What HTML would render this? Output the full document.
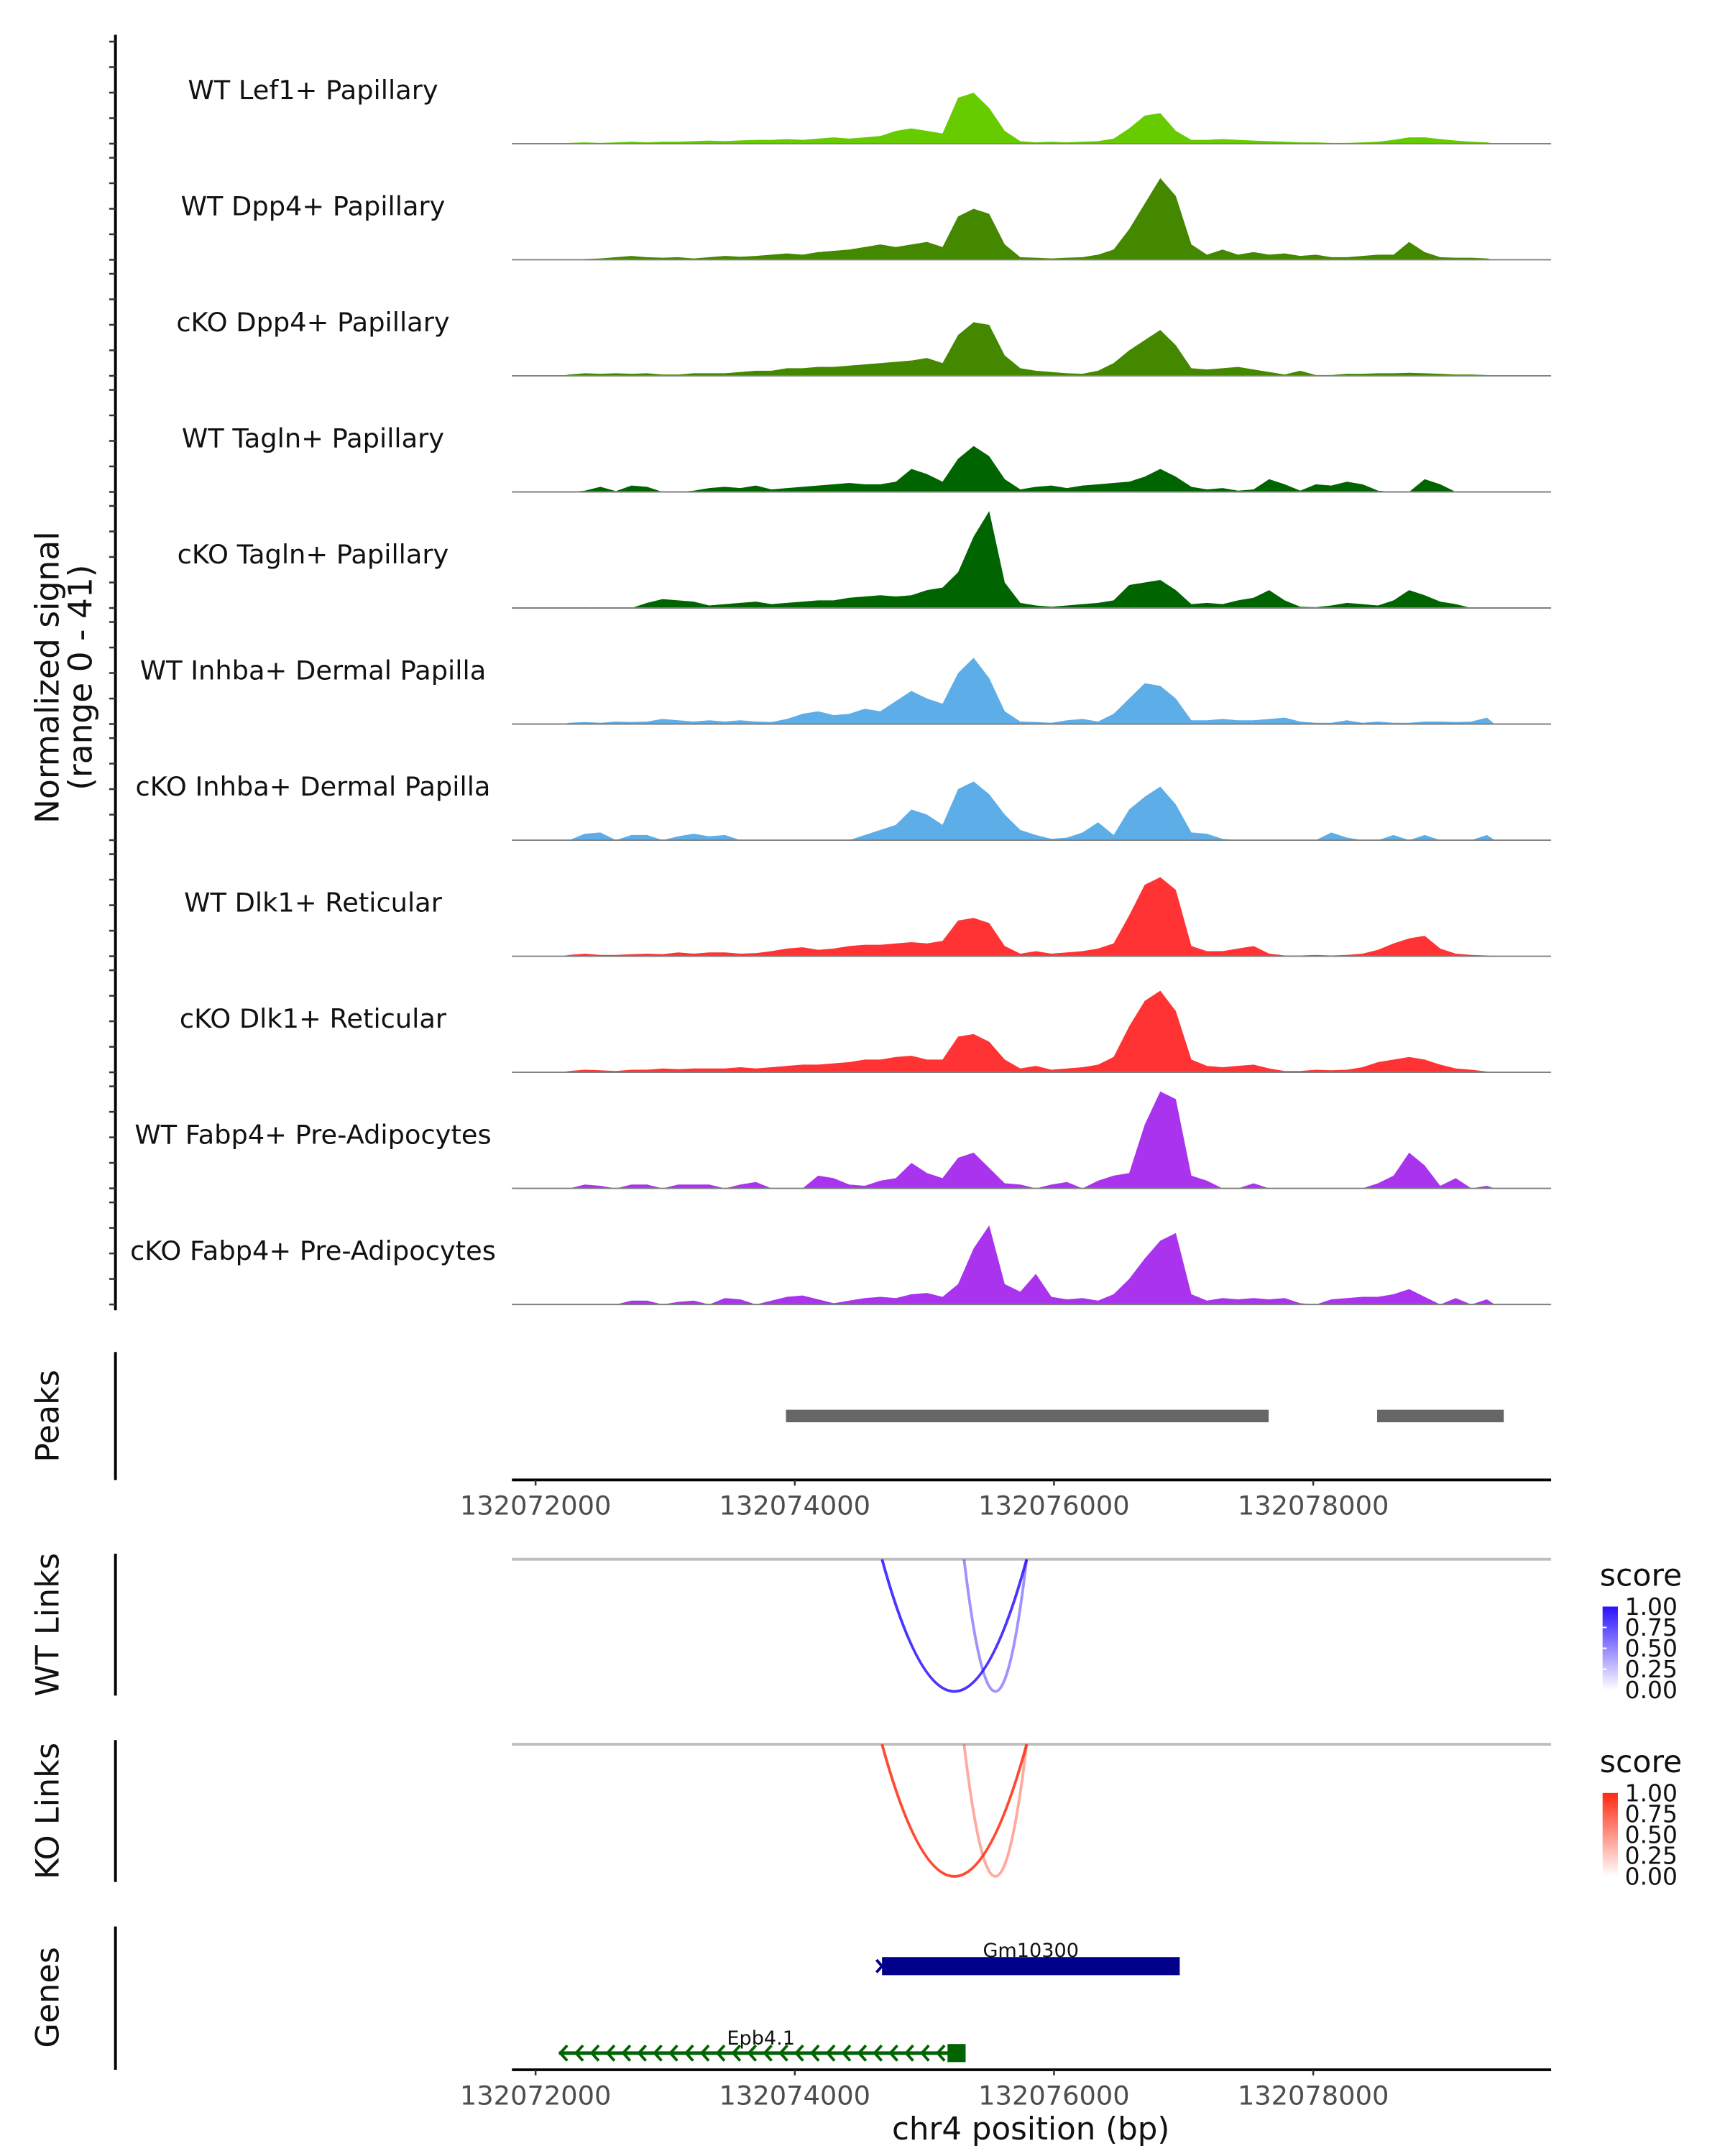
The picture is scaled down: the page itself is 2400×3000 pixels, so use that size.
<!DOCTYPE html>
<html><head><meta charset="utf-8"><style>
html,body{margin:0;padding:0;background:#fff;}
svg{display:block;font-family:"DejaVu Sans","Liberation Sans",sans-serif;}
</style></head><body>
<svg id="chart" width="2400" height="3000" viewBox="0 0 1240 1550" xmlns="http://www.w3.org/2000/svg">
<rect width="1240" height="1550" fill="#fff"/>
<g id="tracks"></g>
<g id="yaxis"></g>
<text transform="translate(42,487) rotate(-90)" text-anchor="middle" font-size="23.5" fill="#111">Normalized signal</text>
<text transform="translate(66,487) rotate(-90)" text-anchor="middle" font-size="23.5" fill="#111">(range 0 - 41)</text>

<g>
<line x1="83" y1="972" x2="83" y2="1064" stroke="#000" stroke-width="2"/>
<text transform="translate(42,1018) rotate(-90)" text-anchor="middle" font-size="23" fill="#111">Peaks</text>
<g id="peaks"></g>
</g>
<g id="xaxis1"></g>

<g>
<line x1="83" y1="1117" x2="83" y2="1219" stroke="#000" stroke-width="2"/>
<text transform="translate(42,1168) rotate(-90)" text-anchor="middle" font-size="23" fill="#111">WT Links</text>
<line x1="368" y1="1121" x2="1115" y2="1121" stroke="#bebebe" stroke-width="2"/>
<g id="wtlinks"></g>
</g>
<g>
<line x1="83" y1="1251" x2="83" y2="1353" stroke="#000" stroke-width="2"/>
<text transform="translate(42,1302) rotate(-90)" text-anchor="middle" font-size="23" fill="#111">KO Links</text>
<line x1="368" y1="1254" x2="1115" y2="1254" stroke="#bebebe" stroke-width="2"/>
<g id="kolinks"></g>
</g>

<defs>
<linearGradient id="gb" x1="0" y1="1" x2="0" y2="0"><stop offset="0" stop-color="#ffffff"/><stop offset="1" stop-color="#2a10ff"/></linearGradient>
<linearGradient id="gr" x1="0" y1="1" x2="0" y2="0"><stop offset="0" stop-color="#ffffff"/><stop offset="1" stop-color="#ff2a10"/></linearGradient>
</defs>
<g>
<text x="1150" y="1140" font-size="22" fill="#111">score</text>
<rect x="1152" y="1155" width="11" height="60" fill="url(#gb)"/>
<g font-size="17" fill="#111">
<text x="1168" y="1161">1.00</text><text x="1168" y="1176">0.75</text><text x="1168" y="1191">0.50</text><text x="1168" y="1206">0.25</text><text x="1168" y="1221">0.00</text></g>
<g stroke="#fff" stroke-width="1"><line x1="1152" y1="1170" x2="1155" y2="1170"/><line x1="1152" y1="1185" x2="1155" y2="1185"/><line x1="1152" y1="1200" x2="1155" y2="1200"/></g>
</g>
<g>
<text x="1150" y="1274" font-size="22" fill="#111">score</text>
<rect x="1152" y="1289" width="11" height="60" fill="url(#gr)"/>
<g font-size="17" fill="#111">
<text x="1168" y="1295">1.00</text><text x="1168" y="1310">0.75</text><text x="1168" y="1325">0.50</text><text x="1168" y="1340">0.25</text><text x="1168" y="1355">0.00</text></g>
</g>

<g>
<line x1="83" y1="1385" x2="83" y2="1488" stroke="#000" stroke-width="2"/>
<text transform="translate(42,1436) rotate(-90)" text-anchor="middle" font-size="23" fill="#111">Genes</text>
<g id="genes"></g>
</g>
<g id="xaxis2"></g>
<text x="741" y="1538" text-anchor="middle" font-size="22.5" fill="#111">chr4 position (bp)</text>
</svg>
<script>
const NS="http://www.w3.org/2000/svg";
const trackNames=["WT Lef1+ Papillary","WT Dpp4+ Papillary","cKO Dpp4+ Papillary","WT Tagln+ Papillary","cKO Tagln+ Papillary","WT Inhba+ Dermal Papilla","cKO Inhba+ Dermal Papilla","WT Dlk1+ Reticular","cKO Dlk1+ Reticular","WT Fabp4+ Pre-Adipocytes","cKO Fabp4+ Pre-Adipocytes"];
const trackColors=["#66cc00","#448800","#448800","#006400","#006400","#5dade9","#5dade9","#ff3333","#ff3333","#aa33ee","#aa33ee"];
const binStart=132072200, binSize=120;
const sigLef1WT=[0.3,0.5,0.3,0.5,0.8,0.5,0.8,0.8,1,1.2, 1,1.3,1.5,1.5,1.8,1.5,2,2.5,2,2.5, 3,5,6,5,4, 18,20,14,5,1, 0.5,0.8,0.5,0.8,1,2, 6,11,12,5,1.5, 1.5,1.8,1.5,1.2,1,0.8,0.5,0.5,0.3, 0.3,0.5,0.8,1.5,2.5,2.5,1.8,1.2,0.8,0.5];
const sigDpp4WT=[0,0.3,0.5,1,1.5,1,0.8,1,0.5,1, 1.5,1.2,1.5,2,2.5,2,3,3.5,4,5, 6,5,6,7,5, 17,20,18,6,1, 0.8,0.5,0.8,1,2,4, 12,22,32,25,6, 2,4,2,3,2,2.5,1.5,2,1, 1,1.5,2,2,7,3,1,0.8,0.8,0.5];
const sigDpp4KO=[0.5,1,0.8,1,0.8,1,0.5,0.5,1,1, 1,1.5,2,2,3,3,3.5,3.5,4,4.5, 5,5.5,6,7,5, 16,21,20,8,3, 2,1.5,1,0.8,2,5, 10,14,18,12,3, 2.5,3,3.5,2.5,1.5,0.5,2,0.3,0.3, 0.8,0.8,1,1,1.2,1,0.8,0.5,0.5,0.3];
const sigTaglnWT=[0,0.5,2,0.3,2.5,2,0,0,0.5,1.5, 2,1.5,2.5,1,1.5,2,2.5,3,3.5,3, 3,4,9,7,4, 13,18,14,5,1, 2,2.5,1.5,2.5,3,3.5, 4,6,9,6,2, 1,1.5,0.5,1,5,3,0.5,3,2.5, 4,3,0.5,0,0,5,3,0,0,0];
const sigTaglnKO=[0,0.3,0,0,0,2,3.5,3,2.5,1, 1.5,2,2.5,1.5,2,2.5,3,3,4,4.5, 5,4.5,5,7,8, 14,28,38,10,2, 1,0.5,1,1.5,2,3, 9,10,11,7,1.5, 2,1.5,3,4,7,3,0.5,0.3,1, 2,1.5,1,3,7,5,2.5,1.5,0,0];
const sigInhbaWT=[0.5,0.8,0.5,1,0.8,1,2,1.5,1,1.5, 1,1.5,1,0.8,2,4,5,3.5,4,6, 5,9,13,10,8, 20,26,18,5,1, 0.8,0.5,1.5,2,1,4, 10,16,15,10,1.5, 1.5,2,1.5,1.5,2,2.5,1,0.5,0.5, 1.5,0.5,1,0.5,0.5,1,1,0.8,1,2.5];
const sigInhbaKO=[0,2.5,3,0,2,2,0,1.5,2.5,1.5, 2,0,0,0,0,0,0,0,0,2, 4,6,12,10,6, 20,23,18,10,4, 2,0.5,1,3,7,2, 12,17,21,14,3, 2.5,0.5,0,0,0,0,0,0,3, 1,0,0,2,0,2,0,0,0,2];
const sigDlk1WT=[0.5,1,0.5,0.5,0.8,1,0.8,1.5,1,1.5, 1.5,1,1.2,2,3,3.5,2.5,3,4,4.5, 4.5,5,5.5,5,6, 14,15,13,4,1, 2,1,1.5,2,3,5, 16,28,31,26,4, 2,2,3,4,1,0.3,0.3,0.5,0.3, 0.5,1,2.5,5,7,8,3,1,0.5,0.3];
const sigDlk1KO=[0.5,1,0.8,0.5,1,1,1.5,1.2,1.5,1.5, 1.5,2,1.5,2,2.5,3,3,3.5,4,5, 5,6,6.5,5,5, 14,15,12,5,1.5, 2.5,1,1.5,2,3,6, 18,28,32,24,5, 2.5,2,2.5,3,1.5,0.5,0.5,1,0.8, 1,2,4,5,6,5,3,1.5,1,0.3];
const sigFabp4WT=[0,1.5,1,0,1.5,1.5,0,1.5,1.5,1.5, 0,1.5,2.5,0,0,0,5,4,1.5,1, 3,4,10,6,4, 12,14,8,2,1.5, 0,1.5,2.5,0,3,5, 6,25,38,35,5, 3,0,0,2,0,0,0,0,0, 0,0,2,5,14,9,1,4,0,1];
const sigFabp4KO=[0,0,0,0,1.5,1.5,0,1,1.5,0, 2.5,2,0,1.5,3,3.5,2,0.5,1.5,2.5, 3,2.5,4,4.5,3, 8,22,31,8,5, 12,3,2,2.5,1.5,4, 10,18,25,28,4, 1.5,2.5,2,2.5,2,2.5,0.5,0,2, 2.5,3,3,4,6,3,0,2.5,0,2];
const signals=[sigLef1WT,sigDpp4WT,sigDpp4KO,sigTaglnWT,sigTaglnKO,sigInhbaWT,sigInhbaKO,sigDlk1WT,sigDlk1KO,sigFabp4WT,sigFabp4KO];
const peakStarts=[132073932,132078493];
const peakEnds=[132077656,132079470];
const xTicks=[132072000,132074000,132076000,132078000];
const wtLinkStarts=[132074673,132075306];
const wtLinkEnds=[132075789,132075789];
const wtLinkScores=[0.85,0.45];
const koLinkStarts=[132074673,132075306];
const koLinkEnds=[132075789,132075789];
const koLinkScores=[0.85,0.4];

function sx(bp){return 385+(bp-132072000)*0.0931667;}
const trackTop0=103.3, trackStep=83.45, pxPerUnit=1.834;
function sy(v,k){return trackTop0+k*trackStep - v*pxPerUnit;}
function mk(tag,attrs,parent){const e=document.createElementNS(NS,tag);for(const a in attrs)e.setAttribute(a,attrs[a]);parent.appendChild(e);return e;}

const tracks=document.getElementById('tracks');
signals.forEach((arr,k)=>{
  const base=sy(0,k);
  const xs=sx(binStart), xe=sx(binStart+arr.length*binSize);
  let d="M"+xs.toFixed(2)+","+base;
  arr.forEach((v,i)=>{
    const xc=sx(binStart+(i+0.5)*binSize), y=sy(v,k);
    d+=" L"+xc.toFixed(2)+","+y.toFixed(2);
  });
  d+=" L"+xe.toFixed(2)+","+base+" Z";
  const p=mk('path',{d:d,fill:trackColors[k]},tracks);
  
  
  const l=mk('line',{x1:368,x2:1115,y1:base,y2:base,stroke:'#808080','stroke-width':1},tracks);
  
  
  const t=mk('text',{x:225,y:base-32,'text-anchor':'middle','font-size':'19',fill:'#111'},tracks);
  t.textContent=trackNames[k];
  
  
});
const yax=document.getElementById('yaxis');
const ya=mk('line',{x1:83,x2:83,y1:25,y2:942,stroke:'#000','stroke-width':2},yax);


for(let k=0;k<11;k++){for(let j=0;j<=4;j++){const y=sy(j*10,k);const tk=mk('line',{x1:78.5,x2:83,y1:y,y2:y,stroke:'#333','stroke-width':1.3},yax);

}}

const pk=document.getElementById('peaks');
peakStarts.forEach((s,i)=>{const r=mk('rect',{x:sx(s),y:1013.5,width:sx(peakEnds[i])-sx(s),height:9,fill:'#666666'},pk);

});

function xaxis(id,y){const g=document.getElementById(id);
  const l=mk('line',{x1:368,x2:1115,y1:y,y2:y,stroke:'#000','stroke-width':2},g);
  
  
  xTicks.forEach(v=>{const x=sx(v);mk('line',{x1:x,x2:x,y1:y,y2:y+4,stroke:'#333','stroke-width':1.3},g);
   const t=mk('text',{x:x,y:y+25,'text-anchor':'middle','font-size':'19',fill:'#4d4d4d'},g);t.textContent=v;
   
   });}
xaxis('xaxis1',1064);xaxis('xaxis2',1488);

function links(id,starts,ends,scores,y0,yb,color){const g=document.getElementById(id);
  starts.forEach((s,i)=>{const x1=sx(s),x2=sx(ends[i]);const c=y0+(yb-y0)*2;const xm=(x1+x2)/2;
   const p=mk('path',{d:`M${x1},${y0} Q${xm},${c} ${x2},${y0}`,fill:'none',stroke:color,'stroke-opacity':scores[i],'stroke-width':2},g);
   
   });}
links('wtlinks',wtLinkStarts,wtLinkEnds,wtLinkScores,1121,1216,'#2a10ff');
links('kolinks',koLinkStarts,koLinkEnds,koLinkScores,1254,1349,'#ff2a10');

const gn=document.getElementById('genes');
const gm=mk('rect',{x:sx(132074673),y:1407,width:sx(132076970)-sx(132074673),height:13,fill:'#00008b'},gn);


mk('path',{d:`M${sx(132074673)-4},1409 L${sx(132074673)},1413.5 L${sx(132074673)-4},1418`,fill:'none',stroke:'#00008b','stroke-width':2},gn);
const gmt=mk('text',{x:741,y:1407,'text-anchor':'middle','font-size':'14',fill:'#111'},gn);gmt.textContent='Gm10300';


const e1=sx(132072180),e2=sx(132075200);
const ep=mk('line',{x1:e1,x2:e2,y1:1476,y2:1476,stroke:'#006400','stroke-width':2.5},gn);


for(let x=e1+1;x<e2-4;x+=11.3){mk('path',{d:`M${x+5},${1470.5} L${x},${1476} L${x+5},${1481.5}`,fill:'none',stroke:'#006400','stroke-width':2},gn);}
mk('rect',{x:e2-2,y:1469.5,width:13,height:13,fill:'#006400'},gn);
const ept=mk('text',{x:547,y:1470,'text-anchor':'middle','font-size':'14',fill:'#111'},gn);ept.textContent='Epb4.1';


</script>
</body></html>
